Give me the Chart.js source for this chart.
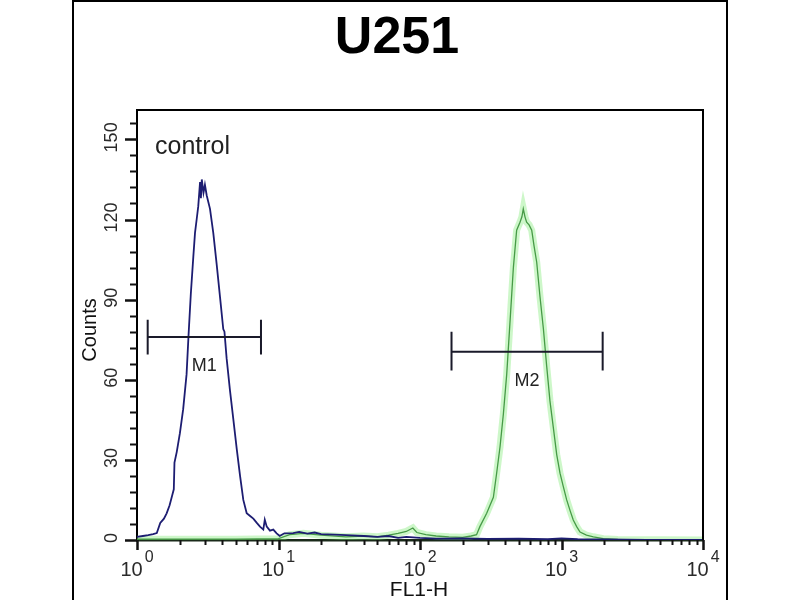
<!DOCTYPE html>
<html>
<head>
  <title>U251 FL1-H histogram</title>
  <script src="https://cdn.jsdelivr.net/npm/chart.js"></script>
  <style>
    body { margin: 0; background: #fff; }
  </style>
</head>
<body>
  <canvas id="chart" width="800" height="600"></canvas>

  <script>
    // control histogram (blue)
    const controlX = [1.00, 1.10, 1.20, 1.30, 1.38, 1.46, 1.55, 1.62, 1.70, 1.78, 1.82, 1.84, 1.91, 2.01, 2.12, 2.24, 2.31, 2.40, 2.50, 2.57,
      2.64, 2.71, 2.79, 2.83, 2.87, 2.95, 3.02, 3.11, 3.28, 3.46, 3.66, 3.86, 4.07, 4.15, 4.30, 4.54, 4.80, 5.07, 5.35, 5.64,
      5.96, 6.30, 6.64, 7.00, 7.40, 7.81, 8.00, 8.26, 8.70, 9.19, 9.70, 10.2, 11.0, 12.7, 14, 16, 18, 20, 25, 30,
      40, 50, 60, 70, 80, 100, 130, 200, 300, 500, 800, 1000, 1300, 2000, 4000, 10000];
    const controlCounts = [1.2, 1.5, 1.8, 2.2, 2.6, 6.4, 8, 10, 13, 17, 19, 29, 33, 40, 49, 62, 76, 92, 106, 115,
      120, 125, 134, 128, 135, 130, 133, 129, 124, 115, 103, 91, 79, 78, 68, 56, 45, 34, 24, 15,
      10, 9, 8, 6.5, 5, 3.9, 7.6, 5, 3.5, 3.9, 2.5, 1.5, 2.5, 2.6, 3, 2.4, 2.8, 2.2, 2, 1.8,
      1.5, 1.2, 1.5, 0.8, 1.2, 0.8, 0.5, 0.6, 0.4, 0.5, 0.3, 0.6, 0.3, 0.2, 0, 0];

    // stained sample histogram (green)
    const sampleX = [1, 5, 10, 12, 15, 20, 30, 40, 50, 60, 70, 80, 89, 95, 110, 130, 160, 200, 230, 251,
      265, 296, 330, 348, 368, 388, 410, 433, 457, 482, 509, 525, 537, 552, 567, 590, 616, 640, 668, 705,
      745, 786, 829, 876, 925, 976, 1030, 1088, 1150, 1211, 1280, 1352, 1500, 1679, 1974, 2500, 10000];
    const sampleCounts = [0.3, 0.3, 0.5, 2, 2.5, 1.8, 1.2, 1.5, 1.2, 1.8, 2.5, 3.2, 4.5, 2.8, 2, 1.5, 1.2, 1.0, 1.5, 2,
      5, 10, 16, 25, 35, 47, 62, 82, 102, 116, 119, 121, 124, 121, 119, 118, 116, 110, 104, 91,
      79, 65, 52, 42, 32, 25, 20, 15, 11, 7.5, 5, 3, 1.8, 1.2, 0.5, 0.2, 0];

    // marker gates
    const m1Range = [1.19, 7.52];
    const m1Level = 76;
    const m1Cap = [69.5, 82.5];
    const m2Range = [167, 1954];
    const m2Level = 70.5;
    const m2Cap = [63.5, 78];

    // axis ticks
    const yTickLabels = [0, 30, 60, 90, 120, 150];
    const yMinorStep = 6;
    const xDecades = [1, 10, 100, 1000, 10000];
    const xExponents = ['0', '1', '2', '3', '4'];

    const toPoints = (xs, ys) => xs.map((v, i) => ({ x: v, y: ys[i] }));

    const gate = (range, level, cap) => [
      { x: range[0], y: cap[0] }, { x: range[0], y: cap[1] }, { x: range[0], y: null },
      { x: range[0], y: level }, { x: range[1], y: level }, { x: range[1], y: null },
      { x: range[1], y: cap[0] }, { x: range[1], y: cap[1] }
    ];

    const FONT = '"Liberation Sans", Arial, sans-serif';

    const overlay = {
      id: 'overlay',
      afterDraw(chart) {
        const { ctx, chartArea: a, scales: { x, y } } = chart;
        ctx.save();

        // outer frame
        ctx.strokeStyle = '#000';
        ctx.lineWidth = 2;
        ctx.strokeRect(73, 1, 654, 640);

        // plot box top / right
        ctx.beginPath();
        ctx.moveTo(a.left, a.top);
        ctx.lineTo(a.right, a.top);
        ctx.lineTo(a.right, a.bottom);
        ctx.stroke();

        // y ticks
        ctx.strokeStyle = '#111';
        for (let v = 0; v <= 160; v += yMinorStep) {
          const py = Math.round(y.getPixelForValue(v)) + 0.5;
          const major = v % 30 === 0;
          ctx.lineWidth = major ? 2.5 : 2;
          ctx.beginPath();
          ctx.moveTo(a.left - (major ? 12 : 7), py);
          ctx.lineTo(a.left, py);
          ctx.stroke();
        }
        ctx.fillStyle = '#2a2a2a';
        ctx.font = '18px ' + FONT;
        ctx.textAlign = 'center';
        ctx.textBaseline = 'middle';
        yTickLabels.forEach(v => {
          ctx.save();
          ctx.translate(112, y.getPixelForValue(v) - 2);
          ctx.rotate(-Math.PI / 2);
          ctx.fillText(String(v), 0, 0);
          ctx.restore();
        });

        // x ticks
        xDecades.forEach((d, i) => {
          const steps = i < xDecades.length - 1 ? 9 : 1;
          for (let k = 1; k <= steps; k++) {
            const px = Math.round(x.getPixelForValue(d * k)) + 0.5;
            ctx.lineWidth = k === 1 ? 2.5 : 2;
            ctx.beginPath();
            ctx.moveTo(px, a.bottom);
            ctx.lineTo(px, a.bottom + (k === 1 ? 10 : 5));
            ctx.stroke();
          }
        });
        ctx.textBaseline = 'alphabetic';
        xDecades.forEach((d, i) => {
          const px = x.getPixelForValue(d);
          ctx.font = '20px ' + FONT;
          const w10 = ctx.measureText('10').width;
          ctx.font = '16px ' + FONT;
          const wExp = ctx.measureText(xExponents[i]).width;
          const left = px - (w10 + 2 + wExp) / 2;
          ctx.textAlign = 'left';
          ctx.font = '20px ' + FONT;
          ctx.fillText('10', left, 576);
          ctx.font = '16px ' + FONT;
          ctx.fillText(xExponents[i], left + w10 + 2, 562);
        });

        // axis titles
        ctx.textAlign = 'center';
        ctx.font = '21px ' + FONT;
        ctx.fillStyle = '#111';
        ctx.fillText('FL1-H', 419, 596);
        ctx.save();
        ctx.translate(96, 330);
        ctx.rotate(-Math.PI / 2);
        ctx.font = '20px ' + FONT;
        ctx.fillText('Counts', 0, 0);
        ctx.restore();

        // title
        ctx.fillStyle = '#000';
        ctx.font = 'bold 52px ' + FONT;
        ctx.fillText('U251', 397, 53);

        // annotations
        ctx.textAlign = 'left';
        ctx.font = '25px ' + FONT;
        ctx.fillStyle = '#222';
        ctx.fillText('control', 155, 154);

        ctx.textAlign = 'center';
        ctx.font = '18px ' + FONT;
        ctx.fillText('M1', x.getPixelForValue(Math.sqrt(m1Range[0] * m1Range[1])), y.getPixelForValue(m1Level) + 34);
        ctx.fillText('M2', x.getPixelForValue(Math.sqrt(m2Range[0] * m2Range[1])), y.getPixelForValue(m2Level) + 34);

        ctx.restore();
      }
    };

    new Chart(document.getElementById('chart'), {
      type: 'scatter',
      data: {
        datasets: [
          { label: 'M1', data: gate(m1Range, m1Level, m1Cap), showLine: true, spanGaps: false,
            borderColor: '#1a1a2a', borderWidth: 2, pointRadius: 0, order: 0 },
          { label: 'M2', data: gate(m2Range, m2Level, m2Cap), showLine: true, spanGaps: false,
            borderColor: '#1a1a2a', borderWidth: 2, pointRadius: 0, order: 0 },
          { label: 'control', data: toPoints(controlX, controlCounts), showLine: true,
            borderColor: '#1d1d72', borderWidth: 1.8, pointRadius: 0, tension: 0, order: 1 },
          { label: 'sample', data: toPoints(sampleX, sampleCounts), showLine: true,
            borderColor: '#479a47', borderWidth: 1.3, pointRadius: 0, tension: 0, order: 2 },
          { label: 'sample glow', data: toPoints(sampleX, sampleCounts), showLine: true,
            borderColor: 'rgba(130,235,120,0.4)', borderWidth: 7, pointRadius: 0, tension: 0, order: 3 }
        ]
      },
      options: {
        responsive: false,
        devicePixelRatio: 1,
        animation: false,
        layout: { padding: { left: 129, right: 97, top: 110, bottom: 52 } },
        plugins: { legend: { display: false }, tooltip: { enabled: false } },
        scales: {
          x: {
            type: 'logarithmic', min: 1, max: 10000,
            ticks: { display: false },
            grid: { display: false },
            border: { display: true, color: '#1a2a1a', width: 2.5 }
          },
          y: {
            min: 0, max: 161,
            ticks: { display: false },
            grid: { display: false },
            border: { display: true, color: '#000', width: 2 }
          }
        }
      },
      plugins: [overlay]
    });
  </script>
</body>
</html>
